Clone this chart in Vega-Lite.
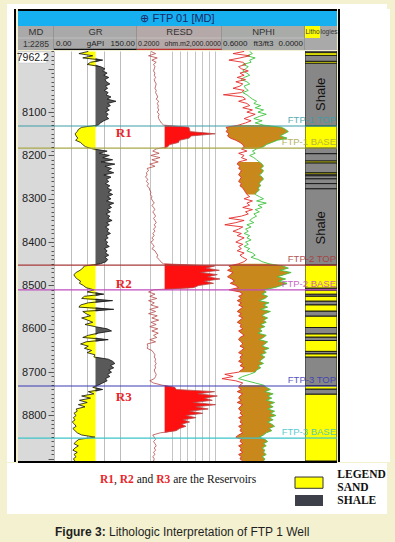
{
"$schema":"https://vega.github.io/schema/vega-lite/v6.json",
"background":"#f3f1cf",
"padding":{"left":7,"top":4,"right":8,"bottom":0},
"config":{"view":{"stroke":null},"font":"Liberation Sans","axis":{"minExtent":0},"concat":{"spacing":0}},
"datasets":{
"logs":[
{"d":7960,"gr":62,"rs":0.9,"np":0.44,"nd":0.40},{"d":7965,"gr":45,"rs":1.5,"np":0.52,"nd":0.38},{"d":7970,"gr":70,"rs":0.7,"np":0.40,"nd":0.42},{"d":7975,"gr":52,"rs":1.8,"np":0.47,"nd":0.36},
{"d":7980,"gr":88,"rs":1.0,"np":0.55,"nd":0.40},{"d":7985,"gr":66,"rs":1.6,"np":0.45,"nd":0.39},{"d":7990,"gr":60,"rs":1.2,"np":0.43,"nd":0.45},{"d":7995,"gr":84,"rs":1.4,"np":0.48,"nd":0.41},
{"d":8000,"gr":92,"rs":1.3,"np":0.46,"nd":0.43},{"d":8005,"gr":88,"rs":1.2,"np":0.41,"nd":0.45},{"d":8010,"gr":96,"rs":1.4,"np":0.47,"nd":0.42},{"d":8015,"gr":90,"rs":1.3,"np":0.44,"nd":0.40},
{"d":8020,"gr":99,"rs":1.5,"np":0.49,"nd":0.44},{"d":8025,"gr":92,"rs":1.3,"np":0.43,"nd":0.46},{"d":8030,"gr":95,"rs":1.4,"np":0.50,"nd":0.42},{"d":8035,"gr":101,"rs":1.6,"np":0.45,"nd":0.40},
{"d":8040,"gr":93,"rs":1.5,"np":0.47,"nd":0.44},{"d":8045,"gr":97,"rs":1.4,"np":0.52,"nd":0.43},{"d":8050,"gr":91,"rs":1.6,"np":0.44,"nd":0.41},{"d":8055,"gr":98,"rs":1.5,"np":0.46,"nd":0.45},
{"d":8060,"gr":94,"rs":1.7,"np":0.59,"nd":0.42},{"d":8065,"gr":103,"rs":1.9,"np":0.45,"nd":0.40},{"d":8070,"gr":96,"rs":1.6,"np":0.43,"nd":0.38},{"d":8075,"gr":112,"rs":2.1,"np":0.48,"nd":0.35},
{"d":8080,"gr":97,"rs":1.8,"np":0.42,"nd":0.37},{"d":8085,"gr":102,"rs":2.0,"np":0.40,"nd":0.32},{"d":8090,"gr":95,"rs":1.9,"np":0.45,"nd":0.36},{"d":8095,"gr":100,"rs":2.1,"np":0.38,"nd":0.30},
{"d":8100,"gr":93,"rs":1.8,"np":0.42,"nd":0.34},{"d":8105,"gr":98,"rs":2.2,"np":0.36,"nd":0.28},{"d":8110,"gr":94,"rs":2.0,"np":0.40,"nd":0.33},{"d":8115,"gr":99,"rs":2.1,"np":0.44,"nd":0.37},
{"d":8120,"gr":90,"rs":2.4,"np":0.39,"nd":0.31},{"d":8125,"gr":84,"rs":2.8,"np":0.43,"nd":0.36},{"d":8130,"gr":80,"rs":3.6,"np":0.48,"nd":0.30},{"d":8135,"gr":50,"rs":55,"np":0.57,"nd":0.17},
{"d":8140,"gr":44,"rs":60,"np":0.56,"nd":0.14},{"d":8145,"gr":42,"rs":62,"np":0.57,"nd":0.12},{"d":8150,"gr":38,"rs":950,"np":0.55,"nd":0.15},{"d":8155,"gr":40,"rs":70,"np":0.56,"nd":0.18},
{"d":8160,"gr":43,"rs":58,"np":0.54,"nd":0.13},{"d":8165,"gr":39,"rs":20,"np":0.50,"nd":0.20},{"d":8170,"gr":48,"rs":18,"np":0.47,"nd":0.24},{"d":8175,"gr":52,"rs":7,"np":0.45,"nd":0.28},
{"d":8180,"gr":57,"rs":5.5,"np":0.44,"nd":0.30},{"d":8185,"gr":70,"rs":1.6,"np":0.46,"nd":0.35},{"d":8190,"gr":96,"rs":1.1,"np":0.42,"nd":0.38},{"d":8195,"gr":82,"rs":2.2,"np":0.48,"nd":0.36},
{"d":8200,"gr":100,"rs":0.9,"np":0.44,"nd":0.40},{"d":8205,"gr":88,"rs":2.4,"np":0.46,"nd":0.37},{"d":8210,"gr":106,"rs":1.0,"np":0.42,"nd":0.35},{"d":8215,"gr":85,"rs":2.0,"np":0.48,"nd":0.33},
{"d":8220,"gr":110,"rs":0.8,"np":0.49,"nd":0.31},{"d":8225,"gr":92,"rs":1.4,"np":0.47,"nd":0.30},{"d":8230,"gr":104,"rs":0.6,"np":0.48,"nd":0.32},{"d":8235,"gr":97,"rs":0.7,"np":0.46,"nd":0.30},
{"d":8240,"gr":108,"rs":0.55,"np":0.47,"nd":0.31},{"d":8245,"gr":90,"rs":0.6,"np":0.48,"nd":0.33},{"d":8250,"gr":103,"rs":0.5,"np":0.46,"nd":0.31},{"d":8255,"gr":95,"rs":0.65,"np":0.47,"nd":0.30},
{"d":8260,"gr":99,"rs":0.55,"np":0.48,"nd":0.32},{"d":8265,"gr":93,"rs":0.7,"np":0.46,"nd":0.33},{"d":8270,"gr":101,"rs":0.6,"np":0.47,"nd":0.32},{"d":8275,"gr":96,"rs":0.75,"np":0.45,"nd":0.34},
{"d":8280,"gr":104,"rs":0.8,"np":0.44,"nd":0.33},{"d":8285,"gr":98,"rs":0.9,"np":0.43,"nd":0.35},{"d":8290,"gr":106,"rs":0.85,"np":0.42,"nd":0.36},{"d":8295,"gr":97,"rs":1.0,"np":0.40,"nd":0.33},
{"d":8300,"gr":103,"rs":0.95,"np":0.44,"nd":0.30},{"d":8305,"gr":95,"rs":1.1,"np":0.38,"nd":0.35},{"d":8310,"gr":108,"rs":1.3,"np":0.42,"nd":0.28},{"d":8315,"gr":99,"rs":1.0,"np":0.40,"nd":0.34},
{"d":8320,"gr":104,"rs":1.2,"np":0.45,"nd":0.31},{"d":8325,"gr":96,"rs":1.4,"np":0.38,"nd":0.36},{"d":8330,"gr":102,"rs":1.1,"np":0.43,"nd":0.33},{"d":8335,"gr":94,"rs":1.3,"np":0.41,"nd":0.37},
{"d":8340,"gr":101,"rs":1.5,"np":0.46,"nd":0.35},{"d":8345,"gr":97,"rs":1.2,"np":0.55,"nd":0.38},{"d":8350,"gr":105,"rs":1.4,"np":0.44,"nd":0.40},{"d":8355,"gr":95,"rs":1.6,"np":0.50,"nd":0.37},
{"d":8360,"gr":100,"rs":1.3,"np":0.58,"nd":0.42},{"d":8365,"gr":93,"rs":1.5,"np":0.45,"nd":0.39},{"d":8370,"gr":99,"rs":1.2,"np":0.48,"nd":0.43},{"d":8375,"gr":96,"rs":1.4,"np":0.52,"nd":0.41},
{"d":8380,"gr":102,"rs":1.1,"np":0.46,"nd":0.44},{"d":8385,"gr":94,"rs":1.3,"np":0.49,"nd":0.40},{"d":8390,"gr":98,"rs":1.0,"np":0.44,"nd":0.42},{"d":8395,"gr":92,"rs":1.2,"np":0.47,"nd":0.39},
{"d":8400,"gr":97,"rs":0.9,"np":0.50,"nd":0.43},{"d":8405,"gr":94,"rs":1.1,"np":0.45,"nd":0.41},{"d":8410,"gr":100,"rs":1.3,"np":0.48,"nd":0.44},{"d":8415,"gr":91,"rs":1.0,"np":0.46,"nd":0.40},
{"d":8420,"gr":96,"rs":1.4,"np":0.49,"nd":0.42},{"d":8425,"gr":93,"rs":1.6,"np":0.44,"nd":0.38},{"d":8430,"gr":99,"rs":1.9,"np":0.47,"nd":0.36},{"d":8435,"gr":92,"rs":1.7,"np":0.45,"nd":0.39},
{"d":8440,"gr":97,"rs":2.2,"np":0.42,"nd":0.34},{"d":8445,"gr":94,"rs":2.6,"np":0.44,"nd":0.31},{"d":8450,"gr":84,"rs":3.5,"np":0.48,"nd":0.26},{"d":8455,"gr":55,"rs":900,"np":0.55,"nd":0.16},
{"d":8460,"gr":52,"rs":350,"np":0.53,"nd":0.12},{"d":8465,"gr":47,"rs":1500,"np":0.56,"nd":0.18},{"d":8470,"gr":40,"rs":200,"np":0.52,"nd":0.10},{"d":8475,"gr":36,"rs":1200,"np":0.54,"nd":0.15},
{"d":8480,"gr":38,"rs":420,"np":0.56,"nd":0.20},{"d":8485,"gr":42,"rs":1600,"np":0.53,"nd":0.14},{"d":8490,"gr":48,"rs":300,"np":0.51,"nd":0.19},{"d":8495,"gr":46,"rs":800,"np":0.54,"nd":0.13},
{"d":8500,"gr":53,"rs":160,"np":0.50,"nd":0.17},{"d":8505,"gr":58,"rs":90,"np":0.48,"nd":0.22},{"d":8510,"gr":72,"rs":1.2,"np":0.55,"nd":0.30},{"d":8515,"gr":60,"rs":0.7,"np":0.47,"nd":0.28},
{"d":8520,"gr":90,"rs":1.4,"np":0.45,"nd":0.31},{"d":8525,"gr":55,"rs":0.8,"np":0.48,"nd":0.27},{"d":8530,"gr":50,"rs":1.7,"np":0.46,"nd":0.29},{"d":8535,"gr":106,"rs":0.7,"np":0.49,"nd":0.33},
{"d":8540,"gr":62,"rs":1.3,"np":0.46,"nd":0.26},{"d":8545,"gr":48,"rs":0.9,"np":0.48,"nd":0.30},{"d":8550,"gr":45,"rs":2.0,"np":0.45,"nd":0.27},{"d":8555,"gr":108,"rs":0.8,"np":0.47,"nd":0.32},
{"d":8560,"gr":52,"rs":1.5,"np":0.49,"nd":0.25},{"d":8565,"gr":58,"rs":0.7,"np":0.46,"nd":0.29},{"d":8570,"gr":66,"rs":1.8,"np":0.48,"nd":0.31},{"d":8575,"gr":50,"rs":1.0,"np":0.45,"nd":0.27},
{"d":8580,"gr":61,"rs":2.1,"np":0.47,"nd":0.30},{"d":8585,"gr":70,"rs":0.9,"np":0.49,"nd":0.28},{"d":8590,"gr":56,"rs":1.6,"np":0.46,"nd":0.32},{"d":8595,"gr":74,"rs":0.8,"np":0.47,"nd":0.29},
{"d":8600,"gr":96,"rs":1.9,"np":0.45,"nd":0.33},{"d":8605,"gr":104,"rs":1.0,"np":0.48,"nd":0.31},{"d":8610,"gr":80,"rs":2.0,"np":0.46,"nd":0.34},{"d":8615,"gr":62,"rs":1.2,"np":0.44,"nd":0.28},
{"d":8620,"gr":52,"rs":1.7,"np":0.47,"nd":0.30},{"d":8625,"gr":98,"rs":0.8,"np":0.48,"nd":0.33},{"d":8630,"gr":58,"rs":1.5,"np":0.46,"nd":0.27},{"d":8635,"gr":48,"rs":0.6,"np":0.45,"nd":0.29},
{"d":8640,"gr":62,"rs":0.65,"np":0.47,"nd":0.31},{"d":8645,"gr":55,"rs":0.6,"np":0.44,"nd":0.26},{"d":8650,"gr":68,"rs":1.0,"np":0.46,"nd":0.30},{"d":8655,"gr":60,"rs":1.2,"np":0.48,"nd":0.28},
{"d":8660,"gr":74,"rs":1.4,"np":0.45,"nd":0.32},{"d":8665,"gr":72,"rs":1.3,"np":0.47,"nd":0.29},{"d":8670,"gr":98,"rs":1.5,"np":0.46,"nd":0.31},{"d":8675,"gr":106,"rs":1.4,"np":0.48,"nd":0.33},
{"d":8680,"gr":110,"rs":1.6,"np":0.45,"nd":0.30},{"d":8685,"gr":102,"rs":1.4,"np":0.47,"nd":0.34},{"d":8690,"gr":108,"rs":1.5,"np":0.44,"nd":0.32},{"d":8695,"gr":99,"rs":1.3,"np":0.46,"nd":0.35},
{"d":8700,"gr":104,"rs":1.4,"np":0.48,"nd":0.36},{"d":8705,"gr":97,"rs":1.6,"np":0.58,"nd":0.40},{"d":8710,"gr":101,"rs":1.5,"np":0.52,"nd":0.45},{"d":8715,"gr":93,"rs":1.3,"np":0.60,"nd":0.48},
{"d":8720,"gr":96,"rs":0.8,"np":0.50,"nd":0.42},{"d":8725,"gr":88,"rs":1.2,"np":0.45,"nd":0.36},{"d":8730,"gr":80,"rs":3.0,"np":0.47,"nd":0.30},{"d":8735,"gr":70,"rs":12,"np":0.48,"nd":0.28},
{"d":8740,"gr":88,"rs":14,"np":0.46,"nd":0.25},{"d":8745,"gr":62,"rs":900,"np":0.49,"nd":0.29},{"d":8750,"gr":72,"rs":150,"np":0.45,"nd":0.23},{"d":8755,"gr":50,"rs":1200,"np":0.47,"nd":0.27},
{"d":8760,"gr":66,"rs":300,"np":0.48,"nd":0.24},{"d":8765,"gr":46,"rs":700,"np":0.46,"nd":0.28},{"d":8770,"gr":60,"rs":90,"np":0.49,"nd":0.22},{"d":8775,"gr":44,"rs":1000,"np":0.45,"nd":0.26},
{"d":8780,"gr":56,"rs":120,"np":0.47,"nd":0.23},{"d":8785,"gr":40,"rs":450,"np":0.48,"nd":0.27},{"d":8790,"gr":42,"rs":60,"np":0.46,"nd":0.22},{"d":8795,"gr":36,"rs":250,"np":0.47,"nd":0.25},
{"d":8800,"gr":40,"rs":40,"np":0.45,"nd":0.21},{"d":8805,"gr":35,"rs":120,"np":0.48,"nd":0.26},{"d":8810,"gr":38,"rs":30,"np":0.46,"nd":0.23},{"d":8815,"gr":33,"rs":60,"np":0.47,"nd":0.27},
{"d":8820,"gr":37,"rs":25,"np":0.45,"nd":0.24},{"d":8825,"gr":40,"rs":40,"np":0.48,"nd":0.22},{"d":8830,"gr":34,"rs":20,"np":0.46,"nd":0.26},{"d":8835,"gr":38,"rs":14,"np":0.47,"nd":0.24},
{"d":8840,"gr":42,"rs":2.5,"np":0.45,"nd":0.28},{"d":8845,"gr":50,"rs":1.1,"np":0.48,"nd":0.30},{"d":8850,"gr":74,"rs":1.3,"np":0.50,"nd":0.33},{"d":8855,"gr":45,"rs":1.5,"np":0.46,"nd":0.29},
{"d":8860,"gr":40,"rs":1.2,"np":0.47,"nd":0.27},{"d":8865,"gr":36,"rs":1.4,"np":0.45,"nd":0.30},{"d":8870,"gr":44,"rs":1.6,"np":0.48,"nd":0.28},{"d":8875,"gr":38,"rs":1.3,"np":0.46,"nd":0.31},
{"d":8880,"gr":34,"rs":1.5,"np":0.47,"nd":0.29},{"d":8885,"gr":42,"rs":1.2,"np":0.45,"nd":0.30},{"d":8890,"gr":36,"rs":1.4,"np":0.48,"nd":0.28},{"d":8895,"gr":40,"rs":1.1,"np":0.46,"nd":0.31},
{"d":8900,"gr":35,"rs":1.3,"np":0.47,"nd":0.29},{"d":8905,"gr":38,"rs":1.2,"np":0.45,"nd":0.30}
],
"tops":[
{"name":"FTP-1 TOP","d":8132},{"name":"FTP-1 BASE","d":8183},{"name":"FTP-2 TOP","d":8453},
{"name":"FTP-2 BASE","d":8510},{"name":"FTP-3 TOP","d":8732},{"name":"FTP-3 BASE","d":8852}
],
"litho":[
{"lith":"shale","top":7959,"base":7963},{"lith":"sand","top":7963,"base":7969},{"lith":"shale","top":7969,"base":7983},
{"lith":"sand","top":7983,"base":7987},{"lith":"shale","top":7987,"base":8132},{"lith":"sand","top":8132,"base":8183},
{"lith":"shale","top":8183,"base":8196},{"lith":"shale","top":8196,"base":8213},{"lith":"sand","top":8213,"base":8217},
{"lith":"shale","top":8217,"base":8240},{"lith":"sand","top":8240,"base":8243},{"lith":"shale","top":8243,"base":8247},
{"lith":"shale","top":8247,"base":8254},{"lith":"shale","top":8254,"base":8265},{"lith":"shale","top":8265,"base":8277},
{"lith":"shale","top":8277,"base":8453},{"lith":"sand","top":8453,"base":8506},{"lith":"shale","top":8506,"base":8511},
{"lith":"sand","top":8511,"base":8520},{"lith":"shale","top":8520,"base":8525},{"lith":"sand","top":8525,"base":8536},
{"lith":"shale","top":8536,"base":8545},{"lith":"sand","top":8545,"base":8559},{"lith":"shale","top":8559,"base":8571},
{"lith":"sand","top":8571,"base":8597},{"lith":"shale","top":8597,"base":8612},{"lith":"sand","top":8612,"base":8619},
{"lith":"shale","top":8619,"base":8627},{"lith":"sand","top":8627,"base":8652},{"lith":"shale","top":8652,"base":8658},
{"lith":"sand","top":8658,"base":8665},{"lith":"shale","top":8665,"base":8731},{"lith":"sand","top":8731,"base":8739},
{"lith":"shale","top":8739,"base":8751},{"lith":"sand","top":8751,"base":8905}
],
"shaleLabels":[{"t":"Shale","d":8059},{"t":"Shale","d":8367}],
"res":[{"r":"R1","d":8148},{"r":"R2","d":8496},{"r":"R3","d":8757}],
"topDepth":[{"label":"7962.2","d":7975}]
},
"bounds":"full",
"spacing":0,
"vconcat":[
{"width":380,"height":5,"view":{"fill":"white"},"data":{"values":[]},"mark":"point"},
{"hconcat":[
 {"width":7,"height":453,"view":{"fill":"white"},"data":{"values":[]},"mark":"point"},
 {"width":2,"height":453,"view":{"fill":"#000000"},"data":{"values":[]},"mark":"point"},
 {"vconcat":[
  {"width":319,"height":2,"view":{"fill":"#000000"},"data":{"values":[]},"mark":"point"},
  {"width":319,"height":15,"view":{"fill":"#16aff0"},"data":{"values":[{}]},
   "mark":{"type":"text","text":"⊕ FTP 01 [MD]","fontSize":11,"color":"#1b2866"},
   "encoding":{"x":{"datum":0.5,"type":"quantitative","scale":{"domain":[0,1]},"axis":null},"y":{"datum":0.5,"type":"quantitative","scale":{"domain":[0,1]},"axis":null}}},
  {"hconcat":[
   {"width":36,"height":24,"view":{"fill":"#a9a9a9"},"data":{"values":[{}]},
    "layer":[
     {"mark":{"type":"rule","color":"#c9c9c9","strokeWidth":0.7,"clip":true},"encoding":{"y":{"datum":1,"type":"quantitative","scale":{"domain":[0,2]},"axis":null}}},
     {"mark":{"type":"text","text":"MD","fontSize":9.5,"color":"#333"},"encoding":{"x":{"datum":0.5,"type":"quantitative","scale":{"domain":[0,1]},"axis":null},"y":{"datum":1.5,"type":"quantitative","scale":{"domain":[0,2]},"axis":null}}},
     {"mark":{"type":"text","text":"1:2285","fontSize":8.5,"color":"#333"},"encoding":{"x":{"datum":0.5,"type":"quantitative","scale":{"domain":[0,1]},"axis":null},"y":{"datum":0.5,"type":"quantitative","scale":{"domain":[0,2]},"axis":null}}},
     {"mark":{"type":"rule","color":"#7d7d7d","strokeWidth":1,"clip":true},"encoding":{"x":{"datum":1,"type":"quantitative","scale":{"domain":[0,1]},"axis":null}}}
    ]},
   {"width":83,"height":24,"view":{"fill":"#a9a9a9"},"data":{"values":[{}]},
    "layer":[
     {"mark":{"type":"rule","color":"#c9c9c9","strokeWidth":0.7,"clip":true},"encoding":{"y":{"datum":1,"type":"quantitative","scale":{"domain":[0,2]},"axis":null}}},
     {"mark":{"type":"rule","color":"#111","strokeWidth":1.2,"clip":true},"encoding":{"y":{"datum":0.06,"type":"quantitative","scale":{"domain":[0,2]},"axis":null}}},
     {"mark":{"type":"text","text":"GR","fontSize":9.5,"color":"#333"},"encoding":{"x":{"datum":0.5,"type":"quantitative","scale":{"domain":[0,1]},"axis":null},"y":{"datum":1.5,"type":"quantitative","scale":{"domain":[0,2]},"axis":null}}},
     {"mark":{"type":"text","text":"0.00","fontSize":8,"color":"#222","align":"left","dx":2},"encoding":{"x":{"datum":0,"type":"quantitative","scale":{"domain":[0,1]},"axis":null},"y":{"datum":0.5,"type":"quantitative","scale":{"domain":[0,2]},"axis":null}}},
     {"mark":{"type":"text","text":"gAPI","fontSize":8,"color":"#222"},"encoding":{"x":{"datum":0.5,"type":"quantitative","scale":{"domain":[0,1]},"axis":null},"y":{"datum":0.5,"type":"quantitative","scale":{"domain":[0,2]},"axis":null}}},
     {"mark":{"type":"text","text":"150.00","fontSize":8,"color":"#222","align":"right","dx":-2},"encoding":{"x":{"datum":1,"type":"quantitative","scale":{"domain":[0,1]},"axis":null},"y":{"datum":0.5,"type":"quantitative","scale":{"domain":[0,2]},"axis":null}}},
     {"mark":{"type":"rule","color":"#7d7d7d","strokeWidth":1,"clip":true},"encoding":{"x":{"datum":1,"type":"quantitative","scale":{"domain":[0,1]},"axis":null}}}
    ]},
   {"width":85,"height":24,"view":{"fill":"#b5a8a8"},"data":{"values":[{}]},
    "layer":[
     {"mark":{"type":"rule","color":"#c9c9c9","strokeWidth":0.7,"clip":true},"encoding":{"y":{"datum":1,"type":"quantitative","scale":{"domain":[0,2]},"axis":null}}},
     {"mark":{"type":"rule","color":"#c03030","strokeWidth":1.2,"clip":true},"encoding":{"y":{"datum":0.06,"type":"quantitative","scale":{"domain":[0,2]},"axis":null}}},
     {"mark":{"type":"text","text":"RESD","fontSize":9.5,"color":"#333"},"encoding":{"x":{"datum":0.5,"type":"quantitative","scale":{"domain":[0,1]},"axis":null},"y":{"datum":1.5,"type":"quantitative","scale":{"domain":[0,2]},"axis":null}}},
     {"mark":{"type":"text","text":"0.2000","fontSize":7,"color":"#222","align":"left","dx":1},"encoding":{"x":{"datum":0,"type":"quantitative","scale":{"domain":[0,1]},"axis":null},"y":{"datum":0.5,"type":"quantitative","scale":{"domain":[0,2]},"axis":null}}},
     {"mark":{"type":"text","text":"ohm.m","fontSize":7,"color":"#222"},"encoding":{"x":{"datum":0.45,"type":"quantitative","scale":{"domain":[0,1]},"axis":null},"y":{"datum":0.5,"type":"quantitative","scale":{"domain":[0,2]},"axis":null}}},
     {"mark":{"type":"text","text":"2,000.0000","fontSize":7,"color":"#222","align":"right","dx":-1},"encoding":{"x":{"datum":1,"type":"quantitative","scale":{"domain":[0,1]},"axis":null},"y":{"datum":0.5,"type":"quantitative","scale":{"domain":[0,2]},"axis":null}}},
     {"mark":{"type":"rule","color":"#7d7d7d","strokeWidth":1,"clip":true},"encoding":{"x":{"datum":1,"type":"quantitative","scale":{"domain":[0,1]},"axis":null}}}
    ]},
   {"width":83,"height":24,"view":{"fill":"#a9aba9"},"data":{"values":[{}]},
    "layer":[
     {"mark":{"type":"rule","color":"#c9c9c9","strokeWidth":0.7,"clip":true},"encoding":{"y":{"datum":1,"type":"quantitative","scale":{"domain":[0,2]},"axis":null}}},
     {"mark":{"type":"text","text":"NPHI","fontSize":9.5,"color":"#333"},"encoding":{"x":{"datum":0.5,"type":"quantitative","scale":{"domain":[0,1]},"axis":null},"y":{"datum":1.5,"type":"quantitative","scale":{"domain":[0,2]},"axis":null}}},
     {"mark":{"type":"text","text":"0.6000","fontSize":8,"color":"#222","align":"left","dx":1},"encoding":{"x":{"datum":0,"type":"quantitative","scale":{"domain":[0,1]},"axis":null},"y":{"datum":0.5,"type":"quantitative","scale":{"domain":[0,2]},"axis":null}}},
     {"mark":{"type":"text","text":"ft3/ft3","fontSize":8,"color":"#222"},"encoding":{"x":{"datum":0.5,"type":"quantitative","scale":{"domain":[0,1]},"axis":null},"y":{"datum":0.5,"type":"quantitative","scale":{"domain":[0,2]},"axis":null}}},
     {"mark":{"type":"text","text":"0.0000","fontSize":8,"color":"#222","align":"right","dx":-2},"encoding":{"x":{"datum":1,"type":"quantitative","scale":{"domain":[0,1]},"axis":null},"y":{"datum":0.5,"type":"quantitative","scale":{"domain":[0,2]},"axis":null}}},
     {"mark":{"type":"rule","color":"#7d7d7d","strokeWidth":1,"clip":true},"encoding":{"x":{"datum":1,"type":"quantitative","scale":{"domain":[0,1]},"axis":null}}}
    ]},
   {"width":32,"height":24,"view":{"fill":"#a9a9a9"},"data":{"values":[{}]},
    "layer":[
     {"mark":{"type":"rect","color":"#ffff00"},"encoding":{"x":{"datum":0,"type":"quantitative","scale":{"domain":[0,1]},"axis":null},"x2":{"datum":0.47},"y":{"datum":1,"type":"quantitative","scale":{"domain":[0,2]},"axis":null},"y2":{"datum":2}}},
     {"mark":{"type":"text","text":"Litho","font":"Liberation Sans Narrow, Liberation Sans","fontSize":6.5,"color":"#333","align":"right","dx":-0.5},"encoding":{"x":{"datum":0.47,"type":"quantitative","scale":{"domain":[0,1]},"axis":null},"y":{"datum":1.5,"type":"quantitative","scale":{"domain":[0,2]},"axis":null}}},
     {"mark":{"type":"text","text":"logies","font":"Liberation Sans Narrow, Liberation Sans","fontSize":6.5,"color":"#333","align":"left","dx":0.5},"encoding":{"x":{"datum":0.47,"type":"quantitative","scale":{"domain":[0,1]},"axis":null},"y":{"datum":1.5,"type":"quantitative","scale":{"domain":[0,2]},"axis":null}}}
    ]}
  ],"spacing":0,"bounds":"flush"},
  {"hconcat":[
   {"width":36,"height":410,"view":{"fill":"#d9d9d9"},
    "layer":[
     {"data":{"name":"tops"},"mark":{"type":"rule","strokeWidth":1.2,"clip":true},
      "encoding":{"y":{"field":"d","type":"quantitative","scale":{"domain":[7959,8905],"reverse":true,"nice":false,"zero":false},
        "axis":{"orient":"left","offset":-36,"tickCount":95,"format":"d","labelExpr":"datum.value % 100 === 0 && datum.value > 8000 && datum.value < 8900 ? datum.label : ''","labelFontSize":{"condition":{"test":"datum.value % 100 === 0 && datum.value > 8000 && datum.value < 8900","value":11},"value":0},"tickSize":{"condition":{"test":"datum.value % 100 === 0","value":6},"value":3},"tickColor":"#333","tickWidth":0.8,"labelPadding":2,"labelColor":"#222","domain":true,"domainColor":"#555","grid":false,"title":null,"labelOverlap":false,"labelBound":false,"labelFlush":false,"zindex":1}},
       "color":{"field":"name","type":"nominal","scale":{"domain":["FTP-1 TOP","FTP-1 BASE","FTP-2 TOP","FTP-2 BASE","FTP-3 TOP","FTP-3 BASE"],"range":["#3a9ea8","#a8a84a","#a83a3a","#c04cc0","#3a3ab8","#3cc4c8"]},"legend":null}}},
     {"data":{"name":"topDepth"},"mark":{"type":"rect","color":"white","stroke":"#bbbbbb","strokeWidth":0.5,"clip":true},
      "encoding":{"y":{"datum":7961,"type":"quantitative","scale":{"domain":[7959,8905],"reverse":true,"nice":false,"zero":false}},"y2":{"datum":7987},
       "x":{"datum":0.02,"type":"quantitative","scale":{"domain":[0,1]},"axis":null},"x2":{"datum":0.8}}},
     {"data":{"name":"topDepth"},"mark":{"type":"text","fontSize":10.5,"color":"#222"},
      "encoding":{"y":{"field":"d","type":"quantitative","scale":{"domain":[7959,8905],"reverse":true,"nice":false,"zero":false}},
       "x":{"datum":0.41,"type":"quantitative","scale":{"domain":[0,1]},"axis":null},"text":{"field":"label"}}}
    ]},
   {"width":83,"height":410,"view":{"fill":"white"},
    "resolve":{"scale":{"x":"independent"}},
    "layer":[
     {"data":{"name":"logs"},"mark":{"type":"area","orient":"horizontal","color":"#ffff00","clip":true},
      "encoding":{"y":{"field":"d","type":"quantitative","scale":{"domain":[7959,8905],"reverse":true,"nice":false,"zero":false},"axis":null},
       "x":{"field":"gr","type":"quantitative","scale":{"domain":[0,75],"range":[0,41.5],"clamp":true,"nice":false,"zero":false},"axis":null},"x2":{"datum":75}}},
     {"data":{"name":"logs"},"mark":{"type":"area","orient":"horizontal","color":"#595959","clip":true},
      "encoding":{"y":{"field":"d","type":"quantitative","scale":{"domain":[7959,8905],"reverse":true,"nice":false,"zero":false},"axis":null},
       "x":{"field":"gr","type":"quantitative","scale":{"domain":[75,150],"range":[41.5,83],"clamp":true,"nice":false,"zero":false},"axis":null},"x2":{"datum":75}}},
     {"data":{"name":"logs"},"mark":{"type":"line","orient":"horizontal","color":"#111","strokeWidth":0.8,"clip":true},
      "encoding":{"y":{"field":"d","type":"quantitative","scale":{"domain":[7959,8905],"reverse":true,"nice":false,"zero":false},
        "axis":{"grid":true,"values":[8000,8200,8400,8600,8800],"gridColor":"#4a4a4a","gridWidth":1,"labels":false,"ticks":false,"domain":false,"title":null,"zindex":1}},
       "x":{"field":"gr","type":"quantitative","scale":{"domain":[0,150],"nice":false},
        "axis":{"grid":true,"values":[0,30,60,90,120],"gridColor":"#bdbdbd","gridWidth":1,"labels":false,"ticks":false,"domain":false,"title":null,"zindex":0}}}},
     {"mark":{"type":"rule","color":"#000","strokeWidth":2,"clip":true},"encoding":{"x":{"datum":75,"type":"quantitative","scale":{"domain":[0,150],"nice":false},"axis":null}}},
     {"mark":{"type":"rule","color":"#000","strokeWidth":2.5,"clip":true},"encoding":{"x":{"datum":150,"type":"quantitative","scale":{"domain":[0,150],"nice":false},"axis":null}}},
     {"data":{"name":"tops"},"mark":{"type":"rule","strokeWidth":1.2,"clip":true},
      "encoding":{"y":{"field":"d","type":"quantitative","scale":{"domain":[7959,8905],"reverse":true,"nice":false,"zero":false},"axis":null},
       "color":{"field":"name","type":"nominal","scale":{"domain":["FTP-1 TOP","FTP-1 BASE","FTP-2 TOP","FTP-2 BASE","FTP-3 TOP","FTP-3 BASE"],"range":["#3a9ea8","#a8a84a","#a83a3a","#c04cc0","#3a3ab8","#3cc4c8"]},"legend":null}}},
     {"data":{"name":"res"},"mark":{"type":"text","font":"Liberation Serif","fontWeight":"bold","fontSize":13,"color":"#e8262a"},
      "encoding":{"y":{"field":"d","type":"quantitative","scale":{"domain":[7959,8905],"reverse":true,"nice":false,"zero":false},"axis":null},
       "x":{"datum":126,"type":"quantitative","scale":{"domain":[0,150],"nice":false},"axis":null},"text":{"field":"r"}}}
    ]},
   {"width":85,"height":410,"view":{"fill":"white"},
    "resolve":{"scale":{"x":"independent"}},
    "layer":[
     {"mark":{"type":"rule","color":"#a8a8a8","strokeWidth":3,"clip":true},"encoding":{"x":{"datum":4,"type":"quantitative","scale":{"type":"log","domain":[0.2,2000],"nice":false},"axis":null}}},
     {"data":{"name":"logs"},"mark":{"type":"area","orient":"horizontal","color":"#ff1010","clip":true},
      "encoding":{"y":{"field":"d","type":"quantitative","scale":{"domain":[7959,8905],"reverse":true,"nice":false,"zero":false},"axis":null},
       "x":{"field":"rs","type":"quantitative","scale":{"type":"log","domain":[4,2000],"range":[27.65,85],"clamp":true,"nice":false},"axis":null},"x2":{"datum":4}}},
     {"data":{"name":"logs"},"mark":{"type":"line","orient":"horizontal","color":"#b54a4a","strokeWidth":0.8,"clip":true},
      "encoding":{"y":{"field":"d","type":"quantitative","scale":{"domain":[7959,8905],"reverse":true,"nice":false,"zero":false},
        "axis":{"grid":true,"values":[8000,8200,8400,8600,8800],"gridColor":"#4a4a4a","gridWidth":1,"labels":false,"ticks":false,"domain":false,"title":null,"zindex":1}},
       "x":{"field":"rs","type":"quantitative","scale":{"type":"log","domain":[0.2,2000],"nice":false},
        "axis":{"grid":true,"values":[0.85,9,20,45,110,230,500,900],"gridColor":"#c4c4c4","gridWidth":1,"labels":false,"ticks":false,"domain":false,"title":null,"zindex":0}}}},
     {"mark":{"type":"rule","color":"#333","strokeWidth":1.5,"clip":true},"encoding":{"x":{"datum":2000,"type":"quantitative","scale":{"type":"log","domain":[0.2,2000],"nice":false},"axis":null}}},
     {"data":{"name":"tops"},"mark":{"type":"rule","strokeWidth":1.2,"clip":true},
      "encoding":{"y":{"field":"d","type":"quantitative","scale":{"domain":[7959,8905],"reverse":true,"nice":false,"zero":false},"axis":null},
       "color":{"field":"name","type":"nominal","scale":{"domain":["FTP-1 TOP","FTP-1 BASE","FTP-2 TOP","FTP-2 BASE","FTP-3 TOP","FTP-3 BASE"],"range":["#3a9ea8","#a8a84a","#a83a3a","#c04cc0","#3a3ab8","#3cc4c8"]},"legend":null}}}
    ]},
   {"width":83,"height":410,"view":{"fill":"white"},
    "layer":[
     {"data":{"name":"logs"},"transform":[{"filter":{"field":"d","range":[8130,8185]}}],"mark":{"type":"area","orient":"horizontal","color":"#c8881c","clip":true},
      "encoding":{"y":{"field":"d","type":"quantitative","scale":{"domain":[7959,8905],"reverse":true,"nice":false,"zero":false},"axis":null},
       "x":{"field":"np","type":"quantitative","scale":{"domain":[0,0.6],"reverse":true,"nice":false},"axis":null},"x2":{"field":"nd"}}},
     {"data":{"name":"logs"},"transform":[{"filter":{"field":"d","range":[8213,8292]}}],"mark":{"type":"area","orient":"horizontal","color":"#c8881c","clip":true},
      "encoding":{"y":{"field":"d","type":"quantitative","scale":{"domain":[7959,8905],"reverse":true,"nice":false,"zero":false},"axis":null},
       "x":{"field":"np","type":"quantitative","scale":{"domain":[0,0.6],"reverse":true,"nice":false},"axis":null},"x2":{"field":"nd"}}},
     {"data":{"name":"logs"},"transform":[{"filter":{"field":"d","range":[8450,8702]}}],"mark":{"type":"area","orient":"horizontal","color":"#c8881c","clip":true},
      "encoding":{"y":{"field":"d","type":"quantitative","scale":{"domain":[7959,8905],"reverse":true,"nice":false,"zero":false},"axis":null},
       "x":{"field":"np","type":"quantitative","scale":{"domain":[0,0.6],"reverse":true,"nice":false},"axis":null},"x2":{"field":"nd"}}},
     {"data":{"name":"logs"},"transform":[{"filter":{"field":"d","range":[8730,8905]}}],"mark":{"type":"area","orient":"horizontal","color":"#c8881c","clip":true},
      "encoding":{"y":{"field":"d","type":"quantitative","scale":{"domain":[7959,8905],"reverse":true,"nice":false,"zero":false},"axis":null},
       "x":{"field":"np","type":"quantitative","scale":{"domain":[0,0.6],"reverse":true,"nice":false},"axis":null},"x2":{"field":"nd"}}},
     {"data":{"name":"logs"},"mark":{"type":"line","orient":"horizontal","color":"#3ec43e","strokeWidth":0.9,"clip":true},
      "encoding":{"y":{"field":"d","type":"quantitative","scale":{"domain":[7959,8905],"reverse":true,"nice":false,"zero":false},"axis":null},
       "x":{"field":"nd","type":"quantitative","scale":{"domain":[0,0.6],"reverse":true,"nice":false},"axis":null}}},
     {"data":{"name":"logs"},"mark":{"type":"line","orient":"horizontal","color":"#e42a2a","strokeWidth":0.9,"clip":true},
      "encoding":{"y":{"field":"d","type":"quantitative","scale":{"domain":[7959,8905],"reverse":true,"nice":false,"zero":false},
        "axis":{"grid":true,"values":[8000,8200,8400,8600,8800],"gridColor":"#4a4a4a","gridWidth":1,"labels":false,"ticks":false,"domain":false,"title":null,"zindex":1}},
       "x":{"field":"np","type":"quantitative","scale":{"domain":[0,0.6],"reverse":true,"nice":false},
        "axis":{"grid":true,"values":[0.12,0.24,0.36,0.48],"gridColor":"#c4c4c4","gridWidth":1,"labels":false,"ticks":false,"domain":false,"title":null,"zindex":0}}}},
     {"data":{"name":"tops"},"mark":{"type":"rule","strokeWidth":1.2,"clip":true},
      "encoding":{"y":{"field":"d","type":"quantitative","scale":{"domain":[7959,8905],"reverse":true,"nice":false,"zero":false},"axis":null},
       "color":{"field":"name","type":"nominal","scale":{"domain":["FTP-1 TOP","FTP-1 BASE","FTP-2 TOP","FTP-2 BASE","FTP-3 TOP","FTP-3 BASE"],"range":["#3a9ea8","#a8a84a","#a83a3a","#c04cc0","#3a3ab8","#3cc4c8"]},"legend":null}}}
    ]},
   {"width":32,"height":410,"view":{"fill":"white"},
    "layer":[
     {"data":{"name":"litho"},"transform":[{"filter":"datum.lith === 'shale'"}],"mark":{"type":"rect","color":"#878787","stroke":"#1a1a1a","strokeWidth":1,"clip":true},
      "encoding":{"y":{"field":"top","type":"quantitative","scale":{"domain":[7959,8905],"reverse":true,"nice":false,"zero":false},"axis":null},"y2":{"field":"base"},
       "x":{"datum":0,"type":"quantitative","scale":{"domain":[0,1]},"axis":null},"x2":{"datum":1}}},
     {"data":{"name":"litho"},"transform":[{"filter":"datum.lith === 'sand'"}],"mark":{"type":"rect","color":"#ffff00","stroke":"#1a1a1a","strokeWidth":1,"clip":true},
      "encoding":{"y":{"field":"top","type":"quantitative","scale":{"domain":[7959,8905],"reverse":true,"nice":false,"zero":false},"axis":null},"y2":{"field":"base"},
       "x":{"datum":0,"type":"quantitative","scale":{"domain":[0,1]},"axis":null},"x2":{"datum":1}}},
     {"data":{"name":"shaleLabels"},"mark":{"type":"text","angle":270,"fontSize":13,"color":"#111"},
      "encoding":{"y":{"field":"d","type":"quantitative","scale":{"domain":[7959,8905],"reverse":true,"nice":false,"zero":false},"axis":null},
       "x":{"datum":0.5,"type":"quantitative","scale":{"domain":[0,1]},"axis":null},"text":{"field":"t"}}},
     {"data":{"name":"tops"},"mark":{"type":"rule","strokeWidth":1.2,"clip":true},
      "encoding":{"y":{"field":"d","type":"quantitative","scale":{"domain":[7959,8905],"reverse":true,"nice":false,"zero":false},"axis":null},
       "color":{"field":"name","type":"nominal","scale":{"domain":["FTP-1 TOP","FTP-1 BASE","FTP-2 TOP","FTP-2 BASE","FTP-3 TOP","FTP-3 BASE"],"range":["#3a9ea8","#a8a84a","#a83a3a","#c04cc0","#3a3ab8","#3cc4c8"]},"legend":null}}},
     {"data":{"name":"tops"},"mark":{"type":"text","align":"right","baseline":"bottom","dx":-1,"dy":-1,"fontSize":9.5,"opacity":0.85},
      "encoding":{"y":{"field":"d","type":"quantitative","scale":{"domain":[7959,8905],"reverse":true,"nice":false,"zero":false},"axis":null},
       "x":{"datum":1,"type":"quantitative","scale":{"domain":[0,1]},"axis":null},"text":{"field":"name"},
       "color":{"field":"name","type":"nominal","scale":{"domain":["FTP-1 TOP","FTP-1 BASE","FTP-2 TOP","FTP-2 BASE","FTP-3 TOP","FTP-3 BASE"],"range":["#3a9ea8","#a8a84a","#a83a3a","#c04cc0","#3a3ab8","#3cc4c8"]},"legend":null}}}
    ]}
  ],"spacing":0,"bounds":"flush"},
  {"width":319,"height":2,"view":{"fill":"#000000"},"data":{"values":[]},"mark":"point"}
 ],"spacing":0,"bounds":"full"},
 {"width":2,"height":453,"view":{"fill":"#000000"},"data":{"values":[]},"mark":"point"},
 {"width":50,"height":453,"view":{"fill":"white"},"data":{"values":[]},"mark":"point"}
],"spacing":0,"bounds":"full"},
{"width":380,"height":51,"view":{"fill":"white"},"data":{"values":[{}]},
 "layer":[
  {"mark":{"type":"text","text":"R1","font":"Liberation Serif","fontWeight":"bold","fontSize":11.5,"color":"#e8262a","align":"left"},"encoding":{"x":{"datum":24.47,"type":"quantitative","scale":{"domain":[0,100]},"axis":null},"y":{"datum":33.3,"type":"quantitative","scale":{"domain":[0,100],"reverse":true},"axis":null}}},
  {"mark":{"type":"text","text":",","font":"Liberation Serif","fontSize":11.5,"color":"#111","align":"left"},"encoding":{"x":{"datum":28.17,"type":"quantitative","scale":{"domain":[0,100]},"axis":null},"y":{"datum":33.3,"type":"quantitative","scale":{"domain":[0,100],"reverse":true},"axis":null}}},
  {"mark":{"type":"text","text":"R2","font":"Liberation Serif","fontWeight":"bold","fontSize":11.5,"color":"#e8262a","align":"left"},"encoding":{"x":{"datum":29.68,"type":"quantitative","scale":{"domain":[0,100]},"axis":null},"y":{"datum":33.3,"type":"quantitative","scale":{"domain":[0,100],"reverse":true},"axis":null}}},
  {"mark":{"type":"text","text":"and","font":"Liberation Serif","fontSize":11.5,"color":"#111","align":"left"},"encoding":{"x":{"datum":34.14,"type":"quantitative","scale":{"domain":[0,100]},"axis":null},"y":{"datum":33.3,"type":"quantitative","scale":{"domain":[0,100],"reverse":true},"axis":null}}},
  {"mark":{"type":"text","text":"R3","font":"Liberation Serif","fontWeight":"bold","fontSize":11.5,"color":"#e8262a","align":"left"},"encoding":{"x":{"datum":39.26,"type":"quantitative","scale":{"domain":[0,100]},"axis":null},"y":{"datum":33.3,"type":"quantitative","scale":{"domain":[0,100],"reverse":true},"axis":null}}},
  {"mark":{"type":"text","text":"are the Reservoirs","font":"Liberation Serif","fontSize":11.5,"color":"#111","align":"left"},"encoding":{"x":{"datum":43.72,"type":"quantitative","scale":{"domain":[0,100]},"axis":null},"y":{"datum":33.3,"type":"quantitative","scale":{"domain":[0,100],"reverse":true},"axis":null}}},
  {"mark":{"type":"rect","color":"#ffff00","stroke":"#333","strokeWidth":1},"encoding":{"x":{"datum":75.79,"type":"quantitative","scale":{"domain":[0,100]},"axis":null},"x2":{"datum":83.16},"y":{"datum":27.5,"type":"quantitative","scale":{"domain":[0,100],"reverse":true},"axis":null},"y2":{"datum":49.6}}},
  {"mark":{"type":"rect","color":"#3d4048"},"encoding":{"x":{"datum":75.79,"type":"quantitative","scale":{"domain":[0,100]},"axis":null},"x2":{"datum":83.16},"y":{"datum":62.7,"type":"quantitative","scale":{"domain":[0,100],"reverse":true},"axis":null},"y2":{"datum":84.3}}},
  {"mark":{"type":"text","text":"LEGEND","font":"Liberation Serif","fontWeight":"bold","fontSize":11.5,"color":"#111","align":"left"},"encoding":{"x":{"datum":86.92,"type":"quantitative","scale":{"domain":[0,100]},"axis":null},"y":{"datum":23.5,"type":"quantitative","scale":{"domain":[0,100],"reverse":true},"axis":null}}},
  {"mark":{"type":"text","text":"SAND","font":"Liberation Serif","fontWeight":"bold","fontSize":11.5,"color":"#111","align":"left"},"encoding":{"x":{"datum":86.92,"type":"quantitative","scale":{"domain":[0,100]},"axis":null},"y":{"datum":48.4,"type":"quantitative","scale":{"domain":[0,100],"reverse":true},"axis":null}}},
  {"mark":{"type":"text","text":"SHALE","font":"Liberation Serif","fontWeight":"bold","fontSize":11.5,"color":"#111","align":"left"},"encoding":{"x":{"datum":86.92,"type":"quantitative","scale":{"domain":[0,100]},"axis":null},"y":{"datum":74.5,"type":"quantitative","scale":{"domain":[0,100],"reverse":true},"axis":null}}}
 ]},
{"width":380,"height":29,"data":{"values":[{}]},
 "layer":[
  {"mark":{"type":"text","text":"Figure 3:","fontWeight":"bold","fontSize":12,"color":"#1f1f1f","align":"left"},"encoding":{"x":{"datum":12.63,"type":"quantitative","scale":{"domain":[0,100]},"axis":null},"y":{"datum":61,"type":"quantitative","scale":{"domain":[0,100],"reverse":true},"axis":null}}},
  {"mark":{"type":"text","text":"Lithologic Interpretation of FTP 1 Well","fontSize":12,"color":"#1f1f1f","align":"left"},"encoding":{"x":{"datum":26.84,"type":"quantitative","scale":{"domain":[0,100]},"axis":null},"y":{"datum":61,"type":"quantitative","scale":{"domain":[0,100],"reverse":true},"axis":null}}}
 ]}
]
}
